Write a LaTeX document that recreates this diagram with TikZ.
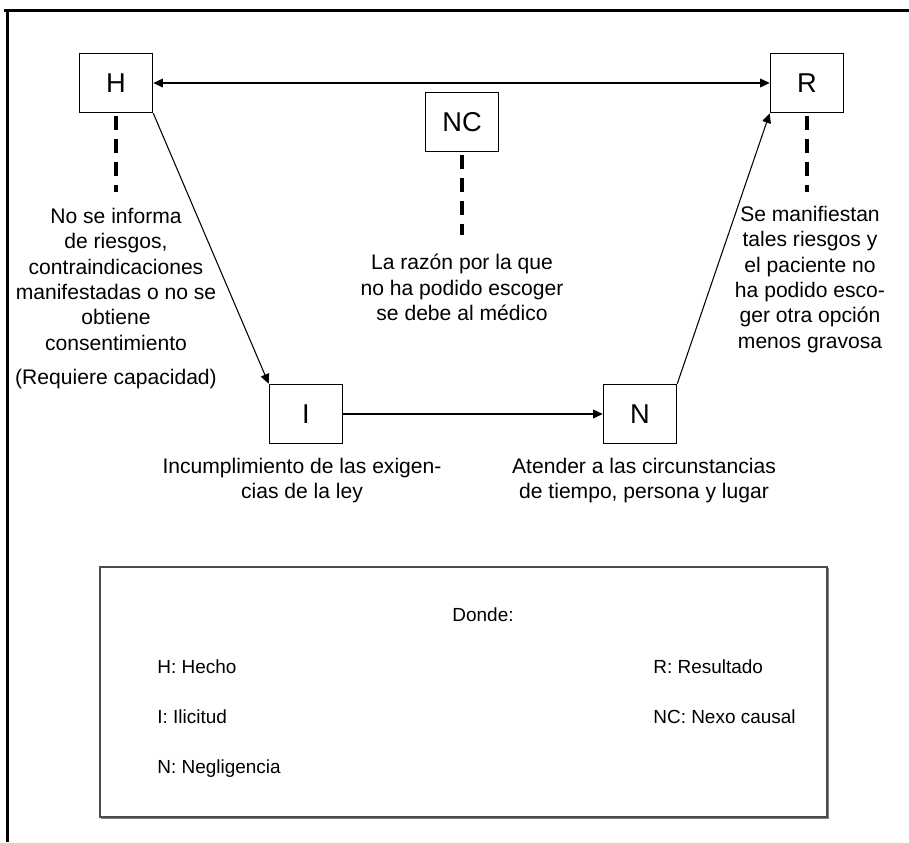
\documentclass[tikz,border=0pt]{standalone}
\usepackage{fontspec}
\setmainfont{Liberation Sans}
\usetikzlibrary{arrows.meta, positioning}

\begin{document}
\begin{tikzpicture}[
    x=0.02cm, y=-0.02cm, % one unit = one pixel of the original
    letterbox/.style={draw, line width=0.9pt, minimum width=1.46cm, minimum height=1.18cm,
        inner sep=0pt, font=\fontsize{15.5}{18}\selectfont},
    note/.style={align=center, anchor=north, inner sep=0pt, font=\fontsize{12}{14.4}\selectfont},
    link/.style={>={Triangle[length=5.5pt, width=5pt]}, ->, line width=0.6pt},
    tie/.style={line width=2pt, dash pattern=on 8pt off 5pt},
    legend/.style={anchor=west, inner sep=0pt, font=\fontsize{10.8}{13}\selectfont}
]

\useasboundingbox (0,0) rectangle (909,842);

% Frame (top and left edges only)
\draw[line width=1.7pt] (4,10.5) -- (909,10.5);
\draw[line width=1.7pt] (7.5,10.5) -- (7.5,842);

% Boxes
\node[letterbox] (H) at (116,83) {H};
\node[letterbox] (R) at (807,83) {R};
\node[letterbox] (NC) at (462,122) {NC};
\node[letterbox] (I) at (306,414) {I};
\node[letterbox] (N) at (640,414) {N};

% Explanations
\node[note] (Htxt) at (116,208) {No se informa\\de riesgos,\\contraindicaciones\\manifestadas o no se\\obtiene\\consentimiento\\[5pt](Requiere capacidad)};
\node[note] (NCtxt) at (462,254) {La razón por la que\\no ha podido escoger\\se debe al médico};
\node[note] (Rtxt) at (810,206) {Se manifiestan\\tales riesgos y\\el paciente no\\ha podido esco-\\ger otra opción\\menos gravosa};
\node[note] (Itxt) at (302,458) {Incumplimiento de las exigen-\\cias de la ley};
\node[note] (Ntxt) at (644,458) {Atender a las circunstancias\\de tiempo, persona y lugar};

% Arrows
\draw[link, <->] (H) -- (R);
\draw[link] (H.south east) -- (I.north west);
\draw[link] (I) -- (N);
\draw[link] (N.north east) -- (R.south west);

% Dashed ties
\draw[tie, shorten <=1.7pt, shorten >=9pt] (H.south) -- (H.south |- Htxt.north);
\draw[tie, shorten <=1.7pt, shorten >=11pt] (NC.south) -- (NC.south |- NCtxt.north);
\draw[tie, shorten <=1.7pt, shorten >=8pt] (R.south) -- (R.south |- Rtxt.north);

% Legend
\draw[gray!60!black, line width=0.7pt] (100,567) rectangle (827,817);
\draw[gray, line width=1pt] (101,818.5) -- (828.5,818.5) -- (828.5,568);
\node[font=\fontsize{10.8}{13}\selectfont] (donde) at (483,615) {Donde:};
\node[legend] (lH) at (157,667) {H: Hecho};
\node[legend] (lI) at (157,717) {I: Ilicitud};
\node[legend] (lN) at (157,769) {N: Negligencia};
\node[legend] (lR) at (653,667) {R: Resultado};
\node[legend] (lNC) at (653,717) {NC: Nexo causal};

\end{tikzpicture}
\end{document}
